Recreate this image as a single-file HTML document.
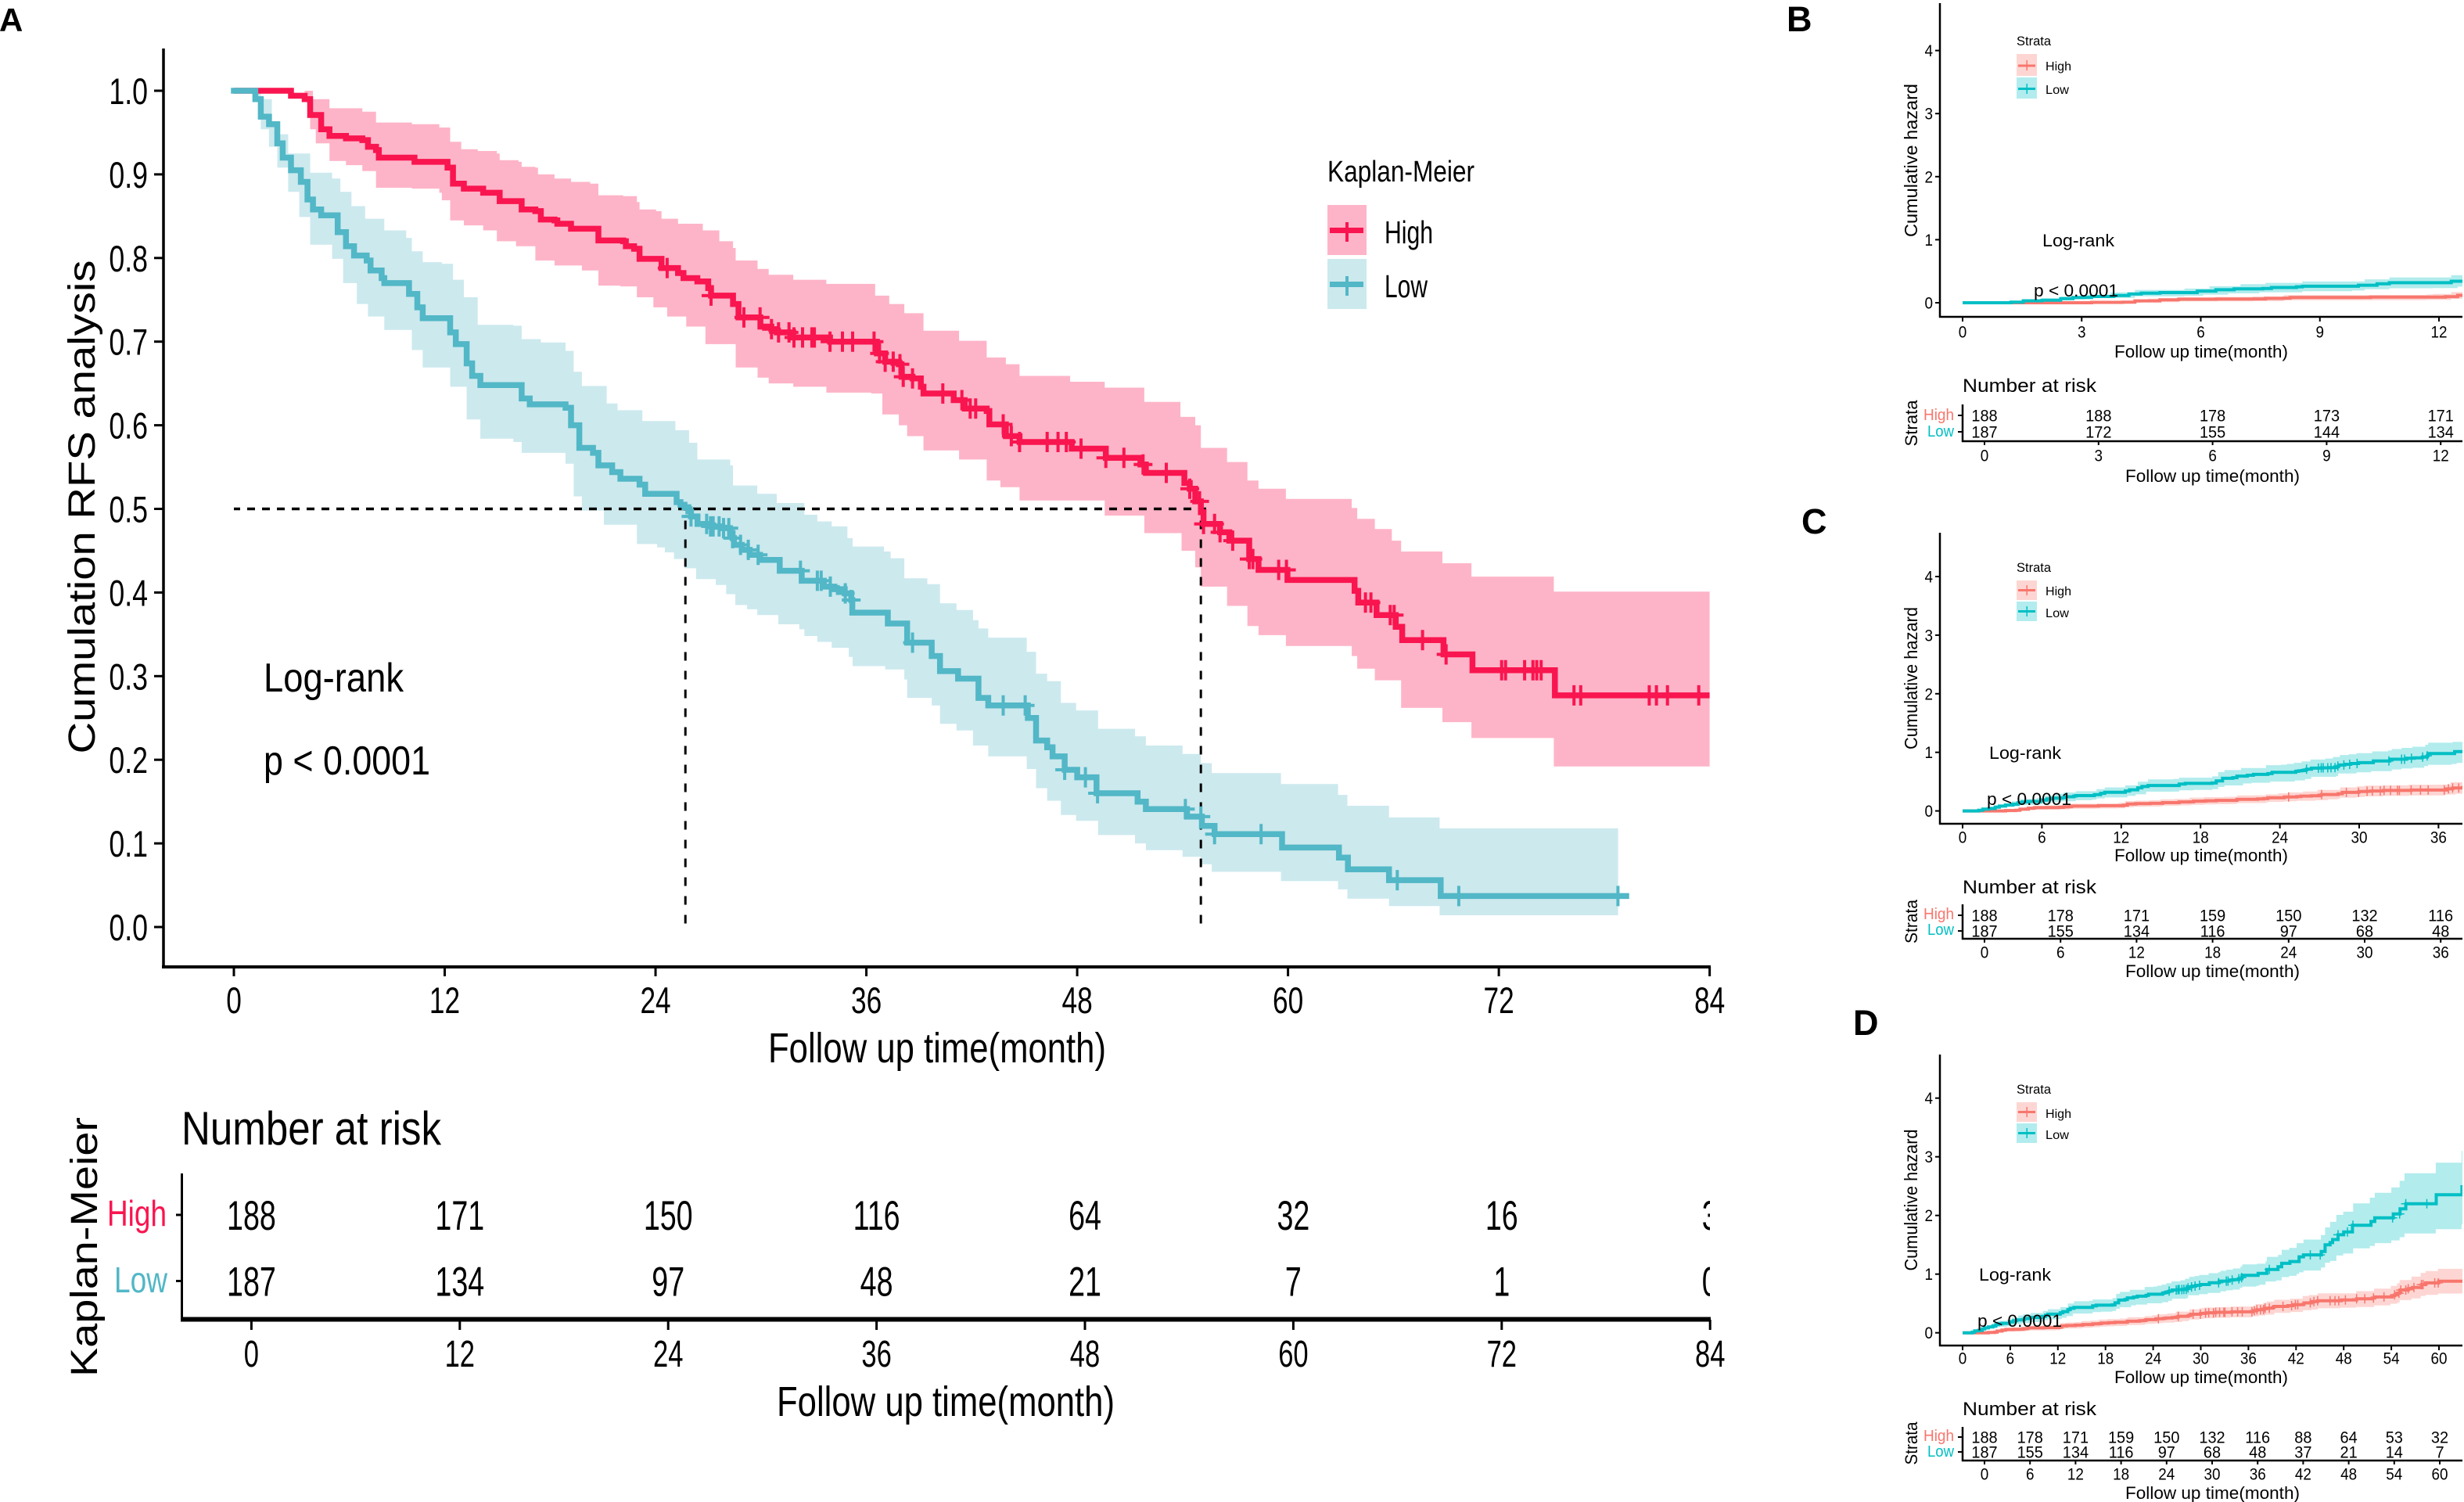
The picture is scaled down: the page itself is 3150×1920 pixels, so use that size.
<!DOCTYPE html>
<html lang="en">
<head>
<meta charset="utf-8">
<title>Kaplan-Meier and cumulative hazard figure</title>
<style>
html,body{margin:0;padding:0;background:#fff;}
svg{display:block;}
text{font-family:"Liberation Sans",Arial,sans-serif;fill:#000;}
.bold{font-weight:bold;}
</style>
</head>
<body>
<svg id="fig" xmlns="http://www.w3.org/2000/svg" width="3150" height="1920" viewBox="0 0 3150 1920">
<rect x="0" y="0" width="3150" height="1920" fill="#fff"/>
<defs>
<clipPath id="clipA"><rect x="200" y="60" width="1987" height="1180"/></clipPath>
<clipPath id="clipRisk"><rect x="233" y="1500" width="1953" height="180"/></clipPath>
<clipPath id="clipB"><rect x="2481" y="0" width="667" height="404"/></clipPath>
<clipPath id="clipC"><rect x="2481" y="680" width="667" height="372"/></clipPath>
<clipPath id="clipD"><rect x="2481" y="1345" width="667" height="374"/></clipPath>
</defs>

<g id="panelA">
<text class="bold" x="-1" y="40" font-size="42">A</text>
<g id="aBands"></g><g id="aMarks"></g>
<text transform="translate(121,648) rotate(-90)" text-anchor="middle" font-size="48" textLength="631" lengthAdjust="spacingAndGlyphs">Cumulation RFS analysis</text>
<text x="982" y="1358" font-size="54" textLength="432" lengthAdjust="spacingAndGlyphs">Follow up time(month)</text>
<text x="1697" y="232" font-size="38" textLength="188" lengthAdjust="spacingAndGlyphs">Kaplan-Meier</text>
<g>
<rect x="1697" y="262" width="50" height="64" fill="#feb4c8"/>
<rect x="1700" y="291" width="43" height="7" fill="#f9154f"/>
<rect x="1720" y="284" width="4" height="25" fill="#f9154f"/>
<text x="1770" y="311" font-size="41" textLength="62" lengthAdjust="spacingAndGlyphs">High</text>
</g>
<g>
<rect x="1697" y="331" width="50" height="64" fill="#cce9ee"/>
<rect x="1700" y="360" width="43" height="7" fill="#52b7c6"/>
<rect x="1720" y="353" width="4" height="25" fill="#52b7c6"/>
<text x="1770" y="380" font-size="41" textLength="55" lengthAdjust="spacingAndGlyphs">Low</text>
</g>
<text x="337" y="884" font-size="52" textLength="179" lengthAdjust="spacingAndGlyphs">Log-rank</text>
<text x="337" y="990" font-size="52" textLength="213" lengthAdjust="spacingAndGlyphs">p &lt; 0.0001</text>
<text x="232" y="1463" font-size="60" textLength="332" lengthAdjust="spacingAndGlyphs">Number at risk</text>
<text transform="translate(124,1594) rotate(-90)" text-anchor="middle" font-size="48" textLength="332" lengthAdjust="spacingAndGlyphs">Kaplan-Meier</text>
<text x="137" y="1567" font-size="46" fill="#f9154f" style="fill:#f9154f" textLength="76" lengthAdjust="spacingAndGlyphs">High</text>
<text x="146" y="1652" font-size="46" style="fill:#52b7c6" textLength="68" lengthAdjust="spacingAndGlyphs">Low</text>
<text x="993" y="1810" font-size="54" textLength="432" lengthAdjust="spacingAndGlyphs">Follow up time(month)</text>
</g>

<g id="panelB">
<text class="bold" x="2284" y="40" font-size="45">B</text>
<g id="bMarks"></g>
<text transform="translate(2451,205) rotate(-90)" text-anchor="middle" font-size="23" textLength="196" lengthAdjust="spacingAndGlyphs">Cumulative hazard</text>
<text x="2703" y="457" font-size="22" textLength="222" lengthAdjust="spacingAndGlyphs">Follow up time(month)</text>
<text x="2578" y="58" font-size="17" textLength="44" lengthAdjust="spacingAndGlyphs">Strata</text>
<rect x="2578" y="69" width="26" height="28" fill="#fdd6d3"/>
<rect x="2580" y="82.5" width="22" height="3" fill="#f8766d"/>
<rect x="2590.5" y="77" width="1.5" height="13" fill="#f8766d"/>
<text x="2615" y="90" font-size="16" textLength="33" lengthAdjust="spacingAndGlyphs">High</text>
<rect x="2578" y="99" width="26" height="27" fill="#b2ecee"/>
<rect x="2580" y="112" width="22" height="3" fill="#00bfc4"/>
<rect x="2590.5" y="107" width="1.5" height="13" fill="#00bfc4"/>
<text x="2615" y="120" font-size="16" textLength="30" lengthAdjust="spacingAndGlyphs">Low</text>
<text x="2611" y="315" font-size="22" textLength="92" lengthAdjust="spacingAndGlyphs">Log-rank</text>
<text x="2600" y="379" font-size="22" textLength="108" lengthAdjust="spacingAndGlyphs">p &lt; 0.0001</text>
<text x="2509" y="501" font-size="24" textLength="171" lengthAdjust="spacingAndGlyphs">Number at risk</text>
<text transform="translate(2451,541) rotate(-90)" text-anchor="middle" font-size="22" textLength="59" lengthAdjust="spacingAndGlyphs">Strata</text>
<text x="2459" y="537" font-size="20" style="fill:#f8766d" textLength="39" lengthAdjust="spacingAndGlyphs">High</text>
<text x="2464" y="558" font-size="20" style="fill:#00bfc4" textLength="34" lengthAdjust="spacingAndGlyphs">Low</text>
<text x="2717" y="616" font-size="22" textLength="223" lengthAdjust="spacingAndGlyphs">Follow up time(month)</text>
</g>

<g id="panelC">
<text class="bold" x="2303" y="682" font-size="45">C</text>
<g id="cMarks"></g>
<text transform="translate(2451,867) rotate(-90)" text-anchor="middle" font-size="23" textLength="182" lengthAdjust="spacingAndGlyphs">Cumulative hazard</text>
<text x="2703" y="1101" font-size="22" textLength="222" lengthAdjust="spacingAndGlyphs">Follow up time(month)</text>
<text x="2578" y="731" font-size="17" textLength="44" lengthAdjust="spacingAndGlyphs">Strata</text>
<rect x="2578" y="742" width="26" height="25" fill="#fdd6d3"/>
<rect x="2580" y="753" width="22" height="3" fill="#f8766d"/>
<rect x="2590.5" y="748" width="1.5" height="13" fill="#f8766d"/>
<text x="2615" y="761" font-size="16" textLength="33" lengthAdjust="spacingAndGlyphs">High</text>
<rect x="2578" y="769" width="26" height="25" fill="#b2ecee"/>
<rect x="2580" y="780" width="22" height="3" fill="#00bfc4"/>
<rect x="2590.5" y="775" width="1.5" height="13" fill="#00bfc4"/>
<text x="2615" y="789" font-size="16" textLength="30" lengthAdjust="spacingAndGlyphs">Low</text>
<text x="2543" y="970" font-size="22" textLength="92" lengthAdjust="spacingAndGlyphs">Log-rank</text>
<text x="2540" y="1029" font-size="22" textLength="108" lengthAdjust="spacingAndGlyphs">p &lt; 0.0001</text>
<text x="2509" y="1142" font-size="24" textLength="171" lengthAdjust="spacingAndGlyphs">Number at risk</text>
<text transform="translate(2451,1178) rotate(-90)" text-anchor="middle" font-size="22" textLength="56" lengthAdjust="spacingAndGlyphs">Strata</text>
<text x="2459" y="1175" font-size="20" style="fill:#f8766d" textLength="39" lengthAdjust="spacingAndGlyphs">High</text>
<text x="2464" y="1195" font-size="20" style="fill:#00bfc4" textLength="34" lengthAdjust="spacingAndGlyphs">Low</text>
<text x="2717" y="1249" font-size="22" textLength="223" lengthAdjust="spacingAndGlyphs">Follow up time(month)</text>
</g>

<g id="panelD">
<text class="bold" x="2369" y="1323" font-size="45">D</text>
<g id="dMarks"></g>
<text transform="translate(2451,1534) rotate(-90)" text-anchor="middle" font-size="23" textLength="181" lengthAdjust="spacingAndGlyphs">Cumulative hazard</text>
<text x="2703" y="1768" font-size="22" textLength="222" lengthAdjust="spacingAndGlyphs">Follow up time(month)</text>
<text x="2578" y="1398" font-size="17" textLength="44" lengthAdjust="spacingAndGlyphs">Strata</text>
<rect x="2578" y="1409" width="26" height="25" fill="#fdd6d3"/>
<rect x="2580" y="1420" width="22" height="3" fill="#f8766d"/>
<rect x="2590.5" y="1415" width="1.5" height="13" fill="#f8766d"/>
<text x="2615" y="1429" font-size="16" textLength="33" lengthAdjust="spacingAndGlyphs">High</text>
<rect x="2578" y="1436" width="26" height="25" fill="#b2ecee"/>
<rect x="2580" y="1447" width="22" height="3" fill="#00bfc4"/>
<rect x="2590.5" y="1442" width="1.5" height="13" fill="#00bfc4"/>
<text x="2615" y="1456" font-size="16" textLength="30" lengthAdjust="spacingAndGlyphs">Low</text>
<text x="2530" y="1637" font-size="22" textLength="92" lengthAdjust="spacingAndGlyphs">Log-rank</text>
<text x="2528" y="1696" font-size="22" textLength="108" lengthAdjust="spacingAndGlyphs">p &lt; 0.0001</text>
<text x="2509" y="1809" font-size="24" textLength="171" lengthAdjust="spacingAndGlyphs">Number at risk</text>
<text transform="translate(2451,1845) rotate(-90)" text-anchor="middle" font-size="22" textLength="55" lengthAdjust="spacingAndGlyphs">Strata</text>
<text x="2459" y="1842" font-size="20" style="fill:#f8766d" textLength="39" lengthAdjust="spacingAndGlyphs">High</text>
<text x="2464" y="1862" font-size="20" style="fill:#00bfc4" textLength="34" lengthAdjust="spacingAndGlyphs">Low</text>
<text x="2717" y="1916" font-size="22" textLength="223" lengthAdjust="spacingAndGlyphs">Follow up time(month)</text>
</g>
</svg>

<script>
// Survival estimates, each pair is [month, survival after that month]
const highCurve = [[0,1],[3.25,.994],[4.03,.99],[4.34,.971],[4.97,.954],[5.44,.946],[6.38,.943],[7.31,.941],[7.63,.933],[8.09,.929],[8.25,.92],[10.28,.915],[12.16,.908],[12.47,.889],[13.09,.883],[14.19,.878],[15.13,.868],[16.38,.858],[17.16,.856],[17.47,.846],[18.25,.845],[18.41,.841],[19.19,.835],[20.75,.821],[22.16,.82],[22.31,.814],[22.78,.811],[23.09,.799],[24.34,.788],[25.28,.782],[25.59,.776],[26.38,.772],[27,.764],[27.16,.755],[28.41,.745],[28.72,.729],[29.97,.718],[30.59,.715],[30.9,.711],[31.84,.705],[33.93,.7],[36.6,.686],[37.07,.676],[37.85,.673],[38,.658],[38.63,.656],[39.1,.646],[39.25,.638],[40.97,.63],[41.6,.62],[42.85,.617],[43,.601],[43.94,.587],[44.72,.58],[47.69,.572],[49.63,.561],[51.6,.553],[51.91,.543],[54.1,.531],[54.41,.524],[54.72,.509],[55.04,.496],[55.19,.482],[56.13,.472],[56.66,.462],[57.79,.44],[58.32,.427],[59.97,.415],[63.79,.402],[64,.388],[65.04,.373],[66.13,.359],[66.5,.343],[68.85,.326],[70.5,.307],[75.19,.277],[84,.277]];
const highUpper = [[3.25,1],[4.5,.99],[5.44,.979],[7.31,.975],[8.09,.962],[10.13,.96],[11.69,.956],[12.31,.939],[12.94,.93],[13.88,.928],[14.97,.925],[15.13,.917],[16.2,.915],[16.38,.909],[17.16,.908],[17.31,.9],[18.25,.895],[19.19,.891],[20.28,.889],[20.75,.875],[22.16,.874],[22.94,.867],[23.09,.858],[24.03,.856],[24.34,.847],[25.28,.841],[26.69,.833],[27.63,.82],[28.41,.812],[28.56,.797],[29.81,.787],[30.44,.78],[31.84,.774],[33.72,.769],[36.5,.755],[37.3,.745],[38.16,.734],[39.25,.713],[41.28,.701],[42.85,.681],[43.94,.673],[44.72,.659],[47.6,.652],[49.57,.645],[51.82,.628],[53.88,.61],[54.72,.6],[55.04,.573],[56.53,.556],[57.69,.534],[58.32,.524],[59.88,.512],[63.63,.501],[63.94,.488],[64.94,.476],[65.91,.462],[66.44,.449],[68.79,.435],[70.44,.419],[75.13,.401],[84,.401]];
const highLower = [[3.25,1],[4.03,.987],[4.34,.954],[4.66,.937],[5.44,.916],[6.38,.911],[7.31,.904],[8.09,.884],[10.13,.883],[11.69,.878],[11.84,.869],[12.31,.845],[13.09,.839],[14.19,.833],[14.97,.82],[16.06,.814],[17.16,.797],[18.25,.791],[19.81,.785],[20.75,.767],[22,.766],[22.94,.753],[23.88,.741],[24.66,.73],[25.75,.718],[26.84,.697],[28.56,.669],[29.81,.657],[30.44,.65],[31.84,.646],[33.72,.639],[36.28,.638],[36.91,.613],[37.85,.6],[38.32,.587],[39.25,.57],[41.28,.559],[42.85,.534],[43.63,.526],[44.72,.51],[49.57,.492],[51.82,.471],[53.94,.45],[54.72,.43],[55.04,.407],[56.53,.384],[57.69,.36],[58.32,.349],[59.88,.336],[63.63,.324],[63.94,.309],[64.94,.295],[66.44,.262],[68.79,.245],[70.44,.226],[75.13,.192],[84,.192]];
const highCensored = [24.66,27.16,29.03,29.95,30.6,31,31.6,31.88,32.37,32.9,33.04,33.93,34.64,35.22,36.44,36.75,37.07,37.53,37.91,38.1,38.63,40.35,41.44,41.91,42.22,43.79,44.25,44.72,46.29,46.91,47.38,48.22,49.63,50.66,51.75,53.07,54.41,54.97,55.19,55.82,56.13,56.85,57.79,58,59.47,59.91,64.41,64.72,65.82,66.04,67.66,69,72.16,72.38,73.47,73.94,74.16,74.41,76.28,76.66,80.56,80.97,81.6,83.38];

const lowCurve = [[0,1],[1.22,.99],[1.53,.969],[2,.96],[2.47,.937],[2.78,.92],[3.25,.905],[3.81,.891],[4.19,.87],[4.5,.858],[4.97,.851],[5.91,.831],[6.38,.814],[6.84,.803],[7.56,.797],[7.78,.785],[8.41,.776],[8.56,.77],[9.97,.757],[10.44,.741],[10.75,.728],[12.31,.711],[12.63,.697],[13.25,.674],[13.56,.659],[14.03,.648],[16.38,.632],[16.84,.625],[18.88,.621],[19.19,.6],[19.66,.573],[20.44,.567],[20.75,.552],[21.53,.544],[22,.536],[23.09,.529],[23.41,.518],[25.2,.508],[25.42,.505],[25.65,.502],[25.87,.497],[26.02,.491],[26.39,.482],[27.13,.479],[27.8,.477],[28.24,.471],[28.39,.465],[28.47,.457],[28.91,.451],[29.36,.445],[29.95,.439],[31.07,.426],[32.32,.414],[33.58,.407],[34.18,.404],[34.77,.399],[35.14,.391],[35.2,.376],[37.22,.363],[38.32,.34],[39.72,.324],[40.19,.306],[41.22,.297],[42.38,.274],[42.94,.265],[45.19,.25],[45.66,.223],[46.29,.215],[46.6,.204],[47.29,.188],[48,.179],[49.1,.16],[51.44,.15],[51.91,.141],[54.25,.132],[55.1,.121],[55.82,.111],[59.66,.095],[62.9,.083],[63.41,.069],[65.75,.056],[68.69,.037],[79.25,.037]];
const lowUpper = [[1.22,1],[1.38,.99],[2.16,.958],[2.47,.948],[3.09,.925],[4.34,.902],[5.59,.895],[6.06,.879],[6.69,.862],[7.47,.847],[8.56,.833],[9.81,.824],[10.13,.808],[10.75,.795],[11.84,.793],[12.47,.774],[13.09,.753],[13.88,.72],[15.91,.719],[16.38,.703],[17.47,.699],[18.88,.689],[19.34,.664],[19.81,.647],[21.22,.626],[21.84,.618],[23.25,.605],[25.13,.594],[25.91,.579],[26.38,.559],[28.25,.552],[28.41,.528],[29.79,.518],[30.9,.507],[32.47,.493],[33.21,.485],[34.03,.479],[34.92,.465],[35.22,.455],[37,.449],[37.38,.441],[38.16,.417],[39.47,.41],[40.19,.387],[41.13,.379],[42.07,.367],[42.38,.357],[42.94,.346],[45.13,.329],[45.66,.303],[46.29,.294],[47.07,.268],[47.94,.259],[49.19,.237],[51.29,.228],[51.91,.217],[54,.207],[55.04,.196],[55.66,.184],[59.6,.171],[62.85,.158],[63.38,.145],[65.75,.131],[68.63,.118],[78.79,.118]];
const lowLower = [[1.22,1],[1.53,.954],[2,.933],[2.47,.908],[3.09,.879],[3.72,.849],[4.34,.816],[5.59,.799],[6.22,.77],[7,.745],[7.63,.73],[8.56,.714],[10.13,.69],[10.75,.669],[12.31,.646],[13.25,.607],[14.03,.584],[15.91,.58],[16.38,.567],[18.88,.554],[19.34,.515],[19.81,.498],[21.06,.481],[22.94,.458],[24.09,.454],[24.53,.448],[25.05,.44],[25.65,.429],[26.31,.416],[27.43,.409],[28.02,.398],[28.54,.385],[29.21,.38],[29.79,.373],[30.99,.362],[32.18,.356],[32.47,.348],[33.21,.341],[34.03,.334],[35,.323],[35.22,.312],[37.07,.308],[38.16,.296],[38.32,.274],[39.72,.265],[40.19,.243],[41.13,.235],[42.07,.217],[42.94,.204],[45.13,.189],[45.66,.166],[46.29,.151],[47.07,.134],[47.94,.127],[49.19,.11],[51.29,.1],[51.91,.092],[54,.084],[55.04,.075],[55.66,.066],[59.6,.055],[62.85,.045],[63.38,.034],[65.75,.025],[68.63,.014],[78.79,.014]];
const lowCensored = [26.02,26.91,27.13,27.28,27.62,27.87,28.17,28.39,28.84,29.28,29.84,32.25,33.21,33.43,33.95,34.8,35.14,38.63,43.79,45.04,47.29,48.47,49.16,54.16,55.04,55.82,58.47,66.22,69.72,78.78];

// Median survival read-off
const medianLevel = 0.5;
const medianLow = 25.7;
const medianHigh = 55.04;

// Panel A ticks and risk table
const aYTicks = ['0.0','0.1','0.2','0.3','0.4','0.5','0.6','0.7','0.8','0.9','1.0'];
const aMonths = [0,12,24,36,48,60,72,84];
const aRiskHigh = [188,171,150,116,64,32,16,3];
const aRiskLow = [187,134,97,48,21,7,1,0];

// Hazard panels ticks and risk tables
const hazardTicks = [0,1,2,3,4];
const bMonths = [0,3,6,9,12];
const bRiskHigh = [188,188,178,173,171];
const bRiskLow = [187,172,155,144,134];
const cMonths = [0,6,12,18,24,30,36];
const cRiskHigh = [188,178,171,159,150,132,116];
const cRiskLow = [187,155,134,116,97,68,48];
const dMonths = [0,6,12,18,24,30,36,42,48,54,60];
const dRiskHigh = [188,178,171,159,150,132,116,88,64,53,32];
const dRiskLow = [187,155,134,116,97,68,48,37,21,14,7];

const NS = 'http://www.w3.org/2000/svg';

function node(parent, tag, name, attrs) {
  const el = document.createElementNS(NS, tag);
  
  
  for (const k in attrs) el.setAttribute(k, attrs[k]);
  parent.appendChild(el);
  return el;
}
function label(parent, name, str, x, y, size, sx, anchor, color) {
  const el = node(parent, 'text', name, {
    transform: 'translate(' + x + ',' + y + ') scale(' + sx + ',1)',
    'font-size': size,
    'text-anchor': anchor
  });
  if (color) el.style.fill = color;
  el.textContent = String(str);
  return el;
}
function line(parent, name, x1, y1, x2, y2, w, color, dash, offset) {
  const a = {x1: x1, y1: y1, x2: x2, y2: y2, stroke: color || '#000', 'stroke-width': w};
  if (dash) a['stroke-dasharray'] = dash;
  if (offset) a['stroke-dashoffset'] = offset;
  return node(parent, 'line', name, a);
}
function stepAt(curve, t) {
  let v = curve[0][1];
  for (const p of curve) { if (p[0] <= t) v = p[1]; else break; }
  return v;
}
function stepPath(curve, X, Y) {
  let d = 'M' + X(curve[0][0]).toFixed(1) + ' ' + Y(curve[0][1]).toFixed(1);
  for (let i = 1; i < curve.length; i++) {
    d += 'H' + X(curve[i][0]).toFixed(1) + 'V' + Y(curve[i][1]).toFixed(1);
  }
  return d;
}
function bandPath(up, lo, X, Y) {
  let d = stepPath(up, X, Y);
  for (let i = lo.length - 1; i >= 0; i--) {
    d += 'L' + X(lo[i][0]).toFixed(1) + ' ' + Y(lo[i][1]).toFixed(1);
    if (i > 0) d += 'L' + X(lo[i][0]).toFixed(1) + ' ' + Y(lo[i - 1][1]).toFixed(1);
  }
  return d + 'Z';
}
function censorMarks(parent, name, times, curve, X, Y, half, arm, w, color) {
  times.forEach(function (t) {
    const cx = X(t), cy = Y(stepAt(curve, t));
    node(parent, 'path', name, {
      d: 'M' + cx.toFixed(1) + ' ' + (cy - half).toFixed(1) + 'V' + (cy + half).toFixed(1) +
         'M' + (cx - arm).toFixed(1) + ' ' + cy.toFixed(1) + 'H' + (cx + arm).toFixed(1),
      stroke: color, 'stroke-width': w, fill: 'none'
    });
  });
}

/* ---------- Panel A ---------- */
(function () {
  const X = function (t) { return 299 + 22.46 * t; };
  const Y = function (s) { return 1185 - 1069 * s; };
  const bands = document.getElementById('aBands');
  const g = document.getElementById('aMarks');
  bands.setAttribute('clip-path', 'url(#clipA)');
  g.setAttribute('clip-path', 'url(#clipA)');
  node(bands, 'path', 'band-high', {d: bandPath(highUpper, highLower, X, Y), fill: '#feb4c8'});
  node(bands, 'path', 'band-low', {d: bandPath(lowUpper, lowLower, X, Y), fill: '#cce9ee'});
  line(g, 'median-guide-horizontal', X(0), Y(medianLevel), X(medianHigh) + 8, Y(medianLevel), 3.5, '#000', '10 9', -17);
  line(g, 'median-guide-low', X(medianLow), Y(medianLevel), X(medianLow), Y(0), 3, '#000', '11 13', -15);
  line(g, 'median-guide-high', X(medianHigh), Y(medianLevel), X(medianHigh), Y(0), 3, '#000', '11 13', -15);
  node(g, 'path', 'curve-high', {d: stepPath(highCurve, X, Y), fill: 'none', stroke: '#f9154f', 'stroke-width': 7.5, 'stroke-linecap': 'butt', 'stroke-linejoin': 'miter'});
  censorMarks(g, 'censor-high', highCensored, highCurve, X, Y, 13, 12, 4, '#f9154f');
  node(g, 'path', 'curve-low', {d: stepPath(lowCurve, X, Y), fill: 'none', stroke: '#52b7c6', 'stroke-width': 7.5, 'stroke-linecap': 'square', 'stroke-linejoin': 'miter'});
  censorMarks(g, 'censor-low', lowCensored, lowCurve, X, Y, 13, 12, 4, '#52b7c6');

  const root = document.getElementById('panelA');
  line(root, 'a-y-axis', 209, 62, 209, 1238, 3.5);
  line(root, 'a-x-axis', 207, 1236, 2187, 1236, 4);
  aYTicks.forEach(function (v) {
    const y = Y(parseFloat(v));
    line(root, 'a-y-tick', 197, y, 209, y, 3);
    label(root, 'a-y-tick-label', v, 189, y + 17, 47, 0.76, 'end');
  });
  aMonths.forEach(function (m) {
    line(root, 'a-x-tick', X(m), 1236, X(m), 1248, 3);
    label(root, 'a-x-tick-label', m, X(m), 1295, 47, 0.75, 'middle');
  });

  // Risk table
  const RX = function (t) { return 321.4 + 22.2 * t; };
  const rowHigh = 1553, rowLow = 1637.5;
  line(root, 'a-risk-y-axis', 232.5, 1500, 232.5, 1687, 3);
  line(root, 'a-risk-x-axis', 231, 1686.5, 2187, 1686.5, 6);
  line(root, 'a-risk-y-tick-high', 225, rowHigh, 232, rowHigh, 3);
  line(root, 'a-risk-y-tick-low', 225, rowLow, 232, rowLow, 3);
  const clip = node(root, 'g', 'a-risk-values', {'clip-path': 'url(#clipRisk)'});
  aMonths.forEach(function (m, i) {
    label(clip, 'a-risk-value-high', aRiskHigh[i], RX(m), rowHigh + 19, 53, 0.71, 'middle');
    label(clip, 'a-risk-value-low', aRiskLow[i], RX(m), rowLow + 19, 53, 0.71, 'middle');
    line(root, 'a-risk-x-tick', RX(m), 1687, RX(m), 1700, 3);
    label(root, 'a-risk-x-tick-label', m, RX(m), 1747, 48, 0.72, 'middle');
  });
})();

/* ---------- Hazard panels B, C, D ---------- */
function toHazard(curve) {
  return curve.map(function (p) { return [p[0], -Math.log(p[1])]; });
}
function hazardPanel(cfg) {
  const root = document.getElementById(cfg.panel + 'Marks');
  const X = function (t) { return 2509 + cfg.xPerMonth * t; };
  const Y = function (h) { return cfg.y0 - cfg.yPerUnit * h; };
  const plot = node(root, 'g', cfg.panel + '-plot-area', {'clip-path': 'url(#' + cfg.clip + ')'});
  node(plot, 'path', cfg.panel + '-band-high', {d: bandPath(toHazard(highLower), toHazard(highUpper), X, Y), fill: '#f8766d', 'fill-opacity': 0.3});
  node(plot, 'path', cfg.panel + '-band-low', {d: bandPath(toHazard(lowLower), toHazard(lowUpper), X, Y), fill: '#00bfc4', 'fill-opacity': 0.3});
  const hh = toHazard(highCurve), hl = toHazard(lowCurve);
  node(plot, 'path', cfg.panel + '-curve-high', {d: stepPath(hh, X, Y), fill: 'none', stroke: '#f8766d', 'stroke-width': 4});
  censorMarks(plot, cfg.panel + '-censor-high', highCensored, hh, X, Y, 6, 6, 1.5, '#f8766d');
  node(plot, 'path', cfg.panel + '-curve-low', {d: stepPath(hl, X, Y), fill: 'none', stroke: '#00bfc4', 'stroke-width': 4});
  censorMarks(plot, cfg.panel + '-censor-low', lowCensored, hl, X, Y, 6, 6, 1.5, '#00bfc4');

  line(root, cfg.panel + '-y-axis', 2480, cfg.top, 2480, cfg.axisY + 1, 2.5);
  line(root, cfg.panel + '-x-axis', 2479, cfg.axisY, 3148, cfg.axisY, 2.5);
  hazardTicks.forEach(function (v) {
    const y = Y(v);
    line(root, cfg.panel + '-y-tick', 2474, y, 2480, y, 2);
    label(root, cfg.panel + '-y-tick-label', v, 2471, y + 7.5, 21, 0.9, 'end');
  });
  cfg.months.forEach(function (m) {
    line(root, cfg.panel + '-x-tick', X(m), cfg.axisY, X(m), cfg.axisY + 6, 2);
    label(root, cfg.panel + '-x-tick-label', m, X(m), cfg.tickY + 7.5, 21, 0.9, 'middle');
  });

  const RX = function (t) { return 2537 + cfg.riskPerMonth * t; };
  line(root, cfg.panel + '-risk-y-axis', 2509, cfg.riskTop, 2509, cfg.riskAxisY + 1, 2.5);
  line(root, cfg.panel + '-risk-x-axis', 2508, cfg.riskAxisY, 3148, cfg.riskAxisY, 2.5);
  line(root, cfg.panel + '-risk-y-tick-high', 2503, cfg.rowHigh, 2509, cfg.rowHigh, 2);
  line(root, cfg.panel + '-risk-y-tick-low', 2503, cfg.rowLow, 2509, cfg.rowLow, 2);
  cfg.months.forEach(function (m, i) {
    label(root, cfg.panel + '-risk-value-high', cfg.riskHigh[i], RX(m), cfg.rowHigh + 7.5, 21, 0.95, 'middle');
    label(root, cfg.panel + '-risk-value-low', cfg.riskLow[i], RX(m), cfg.rowLow + 7.5, 21, 0.95, 'middle');
    line(root, cfg.panel + '-risk-x-tick', RX(m), cfg.riskAxisY, RX(m), cfg.riskAxisY + 5, 2);
    label(root, cfg.panel + '-risk-x-tick-label', m, RX(m), cfg.riskTickY + 7.5, 21, 0.9, 'middle');
  });
}
hazardPanel({panel: 'b', clip: 'clipB', xPerMonth: 50.75, y0: 387, yPerUnit: 80.6, top: 4, axisY: 405, tickY: 424,
  months: bMonths, riskHigh: bRiskHigh, riskLow: bRiskLow, riskPerMonth: 48.6, riskTop: 517, riskAxisY: 564, rowHigh: 531, rowLow: 552, riskTickY: 582});
hazardPanel({panel: 'c', clip: 'clipC', xPerMonth: 16.9, y0: 1036.6, yPerUnit: 74.9, top: 681, axisY: 1053, tickY: 1070,
  months: cMonths, riskHigh: cRiskHigh, riskLow: cRiskLow, riskPerMonth: 16.2, riskTop: 1156, riskAxisY: 1200, rowHigh: 1170, rowLow: 1190, riskTickY: 1217});
hazardPanel({panel: 'd', clip: 'clipD', xPerMonth: 10.15, y0: 1703.7, yPerUnit: 75, top: 1348, axisY: 1720, tickY: 1736,
  months: dMonths, riskHigh: dRiskHigh, riskLow: dRiskLow, riskPerMonth: 9.7, riskTop: 1824, riskAxisY: 1867, rowHigh: 1837, rowLow: 1856, riskTickY: 1884});
</script>
</body>
</html>
